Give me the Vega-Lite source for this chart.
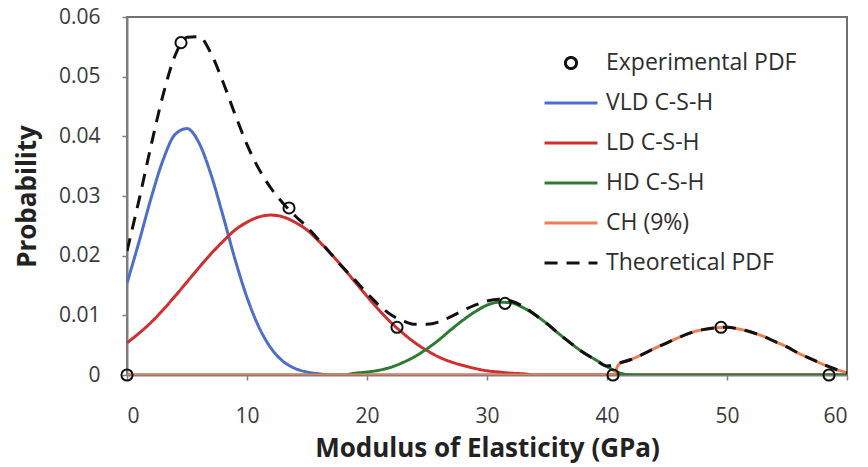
{
  "$schema": "https://vega.github.io/schema/vega-lite/v6.json",
  "width": 720,
  "height": 358,
  "autosize": "none",
  "padding": {"left": 127, "top": 17, "right": 21, "bottom": 92},
  "background": "white",
  "config": {
    "font": "Open Sans",
    "view": {"stroke": "#707070", "strokeWidth": 2},
    "axis": {"grid": false, "domainColor": "#808080", "domainWidth": 2, "tickColor": "#808080", "tickWidth": 1.5, "tickSize": 5, "labelFont": "Open Sans", "labelFontSize": 21, "labelColor": "#3a3a3a", "titleFont": "Open Sans", "titleFontSize": 26, "titleFontWeight": "bold", "titleColor": "#222222"}
  },
  "datasets": {
    "curves": [
      {"series": "VLD C-S-H", "x": 0, "y": 0.0154},
      {"series": "VLD C-S-H", "x": 1, "y": 0.0223},
      {"series": "VLD C-S-H", "x": 2, "y": 0.0296},
      {"series": "VLD C-S-H", "x": 3, "y": 0.0360},
      {"series": "VLD C-S-H", "x": 4, "y": 0.0403},
      {"series": "VLD C-S-H", "x": 5, "y": 0.0413},
      {"series": "VLD C-S-H", "x": 6, "y": 0.0389},
      {"series": "VLD C-S-H", "x": 7, "y": 0.0336},
      {"series": "VLD C-S-H", "x": 8, "y": 0.0267},
      {"series": "VLD C-S-H", "x": 9, "y": 0.0194},
      {"series": "VLD C-S-H", "x": 10, "y": 0.0130},
      {"series": "VLD C-S-H", "x": 11, "y": 0.0080},
      {"series": "VLD C-S-H", "x": 12, "y": 0.0045},
      {"series": "VLD C-S-H", "x": 13, "y": 0.0023},
      {"series": "VLD C-S-H", "x": 14, "y": 0.0011},
      {"series": "VLD C-S-H", "x": 15, "y": 0.0005},
      {"series": "VLD C-S-H", "x": 16, "y": 0.0002},
      {"series": "VLD C-S-H", "x": 17, "y": 0},
      {"series": "VLD C-S-H", "x": 60, "y": 0},
      {"series": "LD C-S-H", "x": 0, "y": 0.0054},
      {"series": "LD C-S-H", "x": 1, "y": 0.0070},
      {"series": "LD C-S-H", "x": 2, "y": 0.0088},
      {"series": "LD C-S-H", "x": 3, "y": 0.0109},
      {"series": "LD C-S-H", "x": 4, "y": 0.0132},
      {"series": "LD C-S-H", "x": 5, "y": 0.0156},
      {"series": "LD C-S-H", "x": 6, "y": 0.0180},
      {"series": "LD C-S-H", "x": 7, "y": 0.0203},
      {"series": "LD C-S-H", "x": 8, "y": 0.0224},
      {"series": "LD C-S-H", "x": 9, "y": 0.0243},
      {"series": "LD C-S-H", "x": 10, "y": 0.0256},
      {"series": "LD C-S-H", "x": 11, "y": 0.0265},
      {"series": "LD C-S-H", "x": 12, "y": 0.0268},
      {"series": "LD C-S-H", "x": 13, "y": 0.0265},
      {"series": "LD C-S-H", "x": 14, "y": 0.0256},
      {"series": "LD C-S-H", "x": 15, "y": 0.0243},
      {"series": "LD C-S-H", "x": 16, "y": 0.0224},
      {"series": "LD C-S-H", "x": 17, "y": 0.0203},
      {"series": "LD C-S-H", "x": 18, "y": 0.0180},
      {"series": "LD C-S-H", "x": 19, "y": 0.0156},
      {"series": "LD C-S-H", "x": 20, "y": 0.0132},
      {"series": "LD C-S-H", "x": 21, "y": 0.0109},
      {"series": "LD C-S-H", "x": 22, "y": 0.0088},
      {"series": "LD C-S-H", "x": 23, "y": 0.0070},
      {"series": "LD C-S-H", "x": 24, "y": 0.0054},
      {"series": "LD C-S-H", "x": 25, "y": 0.0041},
      {"series": "LD C-S-H", "x": 26, "y": 0.0030},
      {"series": "LD C-S-H", "x": 27, "y": 0.0022},
      {"series": "LD C-S-H", "x": 28, "y": 0.0016},
      {"series": "LD C-S-H", "x": 29, "y": 0.0011},
      {"series": "LD C-S-H", "x": 30, "y": 0.0007},
      {"series": "LD C-S-H", "x": 31, "y": 0.0005},
      {"series": "LD C-S-H", "x": 32, "y": 0.0003},
      {"series": "LD C-S-H", "x": 33, "y": 0.0002},
      {"series": "LD C-S-H", "x": 34, "y": 0},
      {"series": "LD C-S-H", "x": 60, "y": 0},
      {"series": "HD C-S-H", "x": 0, "y": 0},
      {"series": "HD C-S-H", "x": 18, "y": 0},
      {"series": "HD C-S-H", "x": 19, "y": 0.0003},
      {"series": "HD C-S-H", "x": 20, "y": 0.0005},
      {"series": "HD C-S-H", "x": 21, "y": 0.0008},
      {"series": "HD C-S-H", "x": 22, "y": 0.0013},
      {"series": "HD C-S-H", "x": 23, "y": 0.0021},
      {"series": "HD C-S-H", "x": 24, "y": 0.0031},
      {"series": "HD C-S-H", "x": 25, "y": 0.0044},
      {"series": "HD C-S-H", "x": 26, "y": 0.0059},
      {"series": "HD C-S-H", "x": 27, "y": 0.0076},
      {"series": "HD C-S-H", "x": 28, "y": 0.0092},
      {"series": "HD C-S-H", "x": 29, "y": 0.0106},
      {"series": "HD C-S-H", "x": 30, "y": 0.0117},
      {"series": "HD C-S-H", "x": 31, "y": 0.0122},
      {"series": "HD C-S-H", "x": 32, "y": 0.0121},
      {"series": "HD C-S-H", "x": 33, "y": 0.0113},
      {"series": "HD C-S-H", "x": 34, "y": 0.0101},
      {"series": "HD C-S-H", "x": 35, "y": 0.0086},
      {"series": "HD C-S-H", "x": 36, "y": 0.0069},
      {"series": "HD C-S-H", "x": 37, "y": 0.0053},
      {"series": "HD C-S-H", "x": 38, "y": 0.0038},
      {"series": "HD C-S-H", "x": 39, "y": 0.0026},
      {"series": "HD C-S-H", "x": 40, "y": 0.0014},
      {"series": "HD C-S-H", "x": 41, "y": 0.0004},
      {"series": "HD C-S-H", "x": 42, "y": 0},
      {"series": "HD C-S-H", "x": 60, "y": 0},
      {"series": "CH (9%)", "x": 0, "y": 0},
      {"series": "CH (9%)", "x": 40.5, "y": 0},
      {"series": "CH (9%)", "x": 41, "y": 0.0018},
      {"series": "CH (9%)", "x": 42, "y": 0.0026},
      {"series": "CH (9%)", "x": 43, "y": 0.0035},
      {"series": "CH (9%)", "x": 44, "y": 0.0045},
      {"series": "CH (9%)", "x": 45, "y": 0.0054},
      {"series": "CH (9%)", "x": 46, "y": 0.0063},
      {"series": "CH (9%)", "x": 47, "y": 0.0071},
      {"series": "CH (9%)", "x": 48, "y": 0.0076},
      {"series": "CH (9%)", "x": 49, "y": 0.0079},
      {"series": "CH (9%)", "x": 50, "y": 0.0080},
      {"series": "CH (9%)", "x": 51, "y": 0.0077},
      {"series": "CH (9%)", "x": 52, "y": 0.0072},
      {"series": "CH (9%)", "x": 53, "y": 0.0065},
      {"series": "CH (9%)", "x": 54, "y": 0.0056},
      {"series": "CH (9%)", "x": 55, "y": 0.0047},
      {"series": "CH (9%)", "x": 56, "y": 0.0036},
      {"series": "CH (9%)", "x": 57, "y": 0.0027},
      {"series": "CH (9%)", "x": 58, "y": 0.0018},
      {"series": "CH (9%)", "x": 59, "y": 0.0010},
      {"series": "CH (9%)", "x": 60, "y": 0.0004},
      {"series": "Theoretical PDF", "x": 0, "y": 0.0208},
      {"series": "Theoretical PDF", "x": 1, "y": 0.0293},
      {"series": "Theoretical PDF", "x": 2, "y": 0.0384},
      {"series": "Theoretical PDF", "x": 3, "y": 0.0469},
      {"series": "Theoretical PDF", "x": 4, "y": 0.0535},
      {"series": "Theoretical PDF", "x": 5, "y": 0.0566},
      {"series": "Theoretical PDF", "x": 6, "y": 0.0567},
      {"series": "Theoretical PDF", "x": 7, "y": 0.0539},
      {"series": "Theoretical PDF", "x": 8, "y": 0.0491},
      {"series": "Theoretical PDF", "x": 9, "y": 0.0437},
      {"series": "Theoretical PDF", "x": 10, "y": 0.0386},
      {"series": "Theoretical PDF", "x": 11, "y": 0.0345},
      {"series": "Theoretical PDF", "x": 12, "y": 0.0313},
      {"series": "Theoretical PDF", "x": 13, "y": 0.0288},
      {"series": "Theoretical PDF", "x": 14, "y": 0.0267},
      {"series": "Theoretical PDF", "x": 15, "y": 0.0248},
      {"series": "Theoretical PDF", "x": 16, "y": 0.0226},
      {"series": "Theoretical PDF", "x": 17, "y": 0.0203},
      {"series": "Theoretical PDF", "x": 18, "y": 0.0180},
      {"series": "Theoretical PDF", "x": 19, "y": 0.0159},
      {"series": "Theoretical PDF", "x": 20, "y": 0.0137},
      {"series": "Theoretical PDF", "x": 21, "y": 0.0117},
      {"series": "Theoretical PDF", "x": 22, "y": 0.0101},
      {"series": "Theoretical PDF", "x": 23, "y": 0.0091},
      {"series": "Theoretical PDF", "x": 24, "y": 0.0085},
      {"series": "Theoretical PDF", "x": 25, "y": 0.0085},
      {"series": "Theoretical PDF", "x": 26, "y": 0.0089},
      {"series": "Theoretical PDF", "x": 27, "y": 0.0098},
      {"series": "Theoretical PDF", "x": 28, "y": 0.0108},
      {"series": "Theoretical PDF", "x": 29, "y": 0.0117},
      {"series": "Theoretical PDF", "x": 30, "y": 0.0124},
      {"series": "Theoretical PDF", "x": 31, "y": 0.0127},
      {"series": "Theoretical PDF", "x": 32, "y": 0.0124},
      {"series": "Theoretical PDF", "x": 33, "y": 0.0115},
      {"series": "Theoretical PDF", "x": 34, "y": 0.0101},
      {"series": "Theoretical PDF", "x": 35, "y": 0.0086},
      {"series": "Theoretical PDF", "x": 36, "y": 0.0069},
      {"series": "Theoretical PDF", "x": 37, "y": 0.0053},
      {"series": "Theoretical PDF", "x": 38, "y": 0.0038},
      {"series": "Theoretical PDF", "x": 39, "y": 0.0026},
      {"series": "Theoretical PDF", "x": 40, "y": 0.0015},
      {"series": "Theoretical PDF", "x": 41, "y": 0.0020},
      {"series": "Theoretical PDF", "x": 42, "y": 0.0026},
      {"series": "Theoretical PDF", "x": 43, "y": 0.0035},
      {"series": "Theoretical PDF", "x": 44, "y": 0.0045},
      {"series": "Theoretical PDF", "x": 45, "y": 0.0054},
      {"series": "Theoretical PDF", "x": 46, "y": 0.0063},
      {"series": "Theoretical PDF", "x": 47, "y": 0.0071},
      {"series": "Theoretical PDF", "x": 48, "y": 0.0076},
      {"series": "Theoretical PDF", "x": 49, "y": 0.0079},
      {"series": "Theoretical PDF", "x": 50, "y": 0.0080},
      {"series": "Theoretical PDF", "x": 51, "y": 0.0077},
      {"series": "Theoretical PDF", "x": 52, "y": 0.0072},
      {"series": "Theoretical PDF", "x": 53, "y": 0.0065},
      {"series": "Theoretical PDF", "x": 54, "y": 0.0056},
      {"series": "Theoretical PDF", "x": 55, "y": 0.0047},
      {"series": "Theoretical PDF", "x": 56, "y": 0.0036},
      {"series": "Theoretical PDF", "x": 57, "y": 0.0027},
      {"series": "Theoretical PDF", "x": 58, "y": 0.0018},
      {"series": "Theoretical PDF", "x": 59, "y": 0.0010},
      {"series": "Theoretical PDF", "x": 60, "y": 0.0004}
    ],
    "points": [
      {"series": "Experimental PDF", "x": 0, "y": 0},
      {"series": "Experimental PDF", "x": 4.5, "y": 0.0557},
      {"series": "Experimental PDF", "x": 13.5, "y": 0.0280},
      {"series": "Experimental PDF", "x": 22.5, "y": 0.0080},
      {"series": "Experimental PDF", "x": 31.5, "y": 0.0120},
      {"series": "Experimental PDF", "x": 40.5, "y": 0},
      {"series": "Experimental PDF", "x": 49.5, "y": 0.0080},
      {"series": "Experimental PDF", "x": 58.5, "y": 0}
    ]
  },
  "encoding": {
    "x": {"field": "x", "type": "quantitative", "scale": {"domain": [0, 60], "nice": false, "zero": false}, "axis": {"values": [0, 10, 20, 30, 40, 50, 60], "labelPadding": 25, "title": "Modulus of Elasticity (GPa)", "titlePadding": 9}},
    "y": {"field": "y", "type": "quantitative", "scale": {"domain": [0, 0.06], "nice": false}, "axis": {"values": [0, 0.01, 0.02, 0.03, 0.04, 0.05, 0.06], "labelExpr": "datum.value == 0 ? '0' : format(datum.value, '.2f')", "labelPadding": 22, "title": "Probability", "titlePadding": 18}},
    "color": {"field": "series", "type": "nominal", "scale": {"domain": ["Experimental PDF", "VLD C-S-H", "LD C-S-H", "HD C-S-H", "CH (9%)", "Theoretical PDF"], "range": ["#111111", "#4e6fc9", "#cf2f2f", "#2f7a33", "#ee7f55", "#111111"]}, "legend": {"title": null, "orient": "none", "legendX": 416, "legendY": 18, "labelFont": "Open Sans", "labelFontSize": 23, "labelColor": "#2e2e2e", "labelOffset": 7, "labelLimit": 400, "rowPadding": 0, "symbolSize": 2800, "symbolStrokeWidth": 3}}
  },
  "layer": [
    {
      "data": {"name": "curves"},
      "mark": {"type": "line", "interpolate": "monotone", "clip": true, "strokeWidth": 3},
      "encoding": {
        "strokeDash": {"field": "series", "type": "nominal", "scale": {"domain": ["Experimental PDF", "VLD C-S-H", "LD C-S-H", "HD C-S-H", "CH (9%)", "Theoretical PDF"], "range": [[1, 0], [1, 0], [1, 0], [1, 0], [1, 0], [13, 9]]}}
      }
    },
    {
      "data": {"name": "points"},
      "mark": {"type": "point", "filled": false, "strokeWidth": 2, "opacity": 1, "size": 2800},
      "encoding": {
        "shape": {"field": "series", "type": "nominal", "scale": {"domain": ["Experimental PDF", "VLD C-S-H", "LD C-S-H", "HD C-S-H", "CH (9%)", "Theoretical PDF"], "range": ["M0.21,0A0.21,0.21,0,1,1,-0.21,0A0.21,0.21,0,1,1,0.21,0Z", "stroke", "stroke", "stroke", "stroke", "stroke"]}}
      }
    }
  ]
}
